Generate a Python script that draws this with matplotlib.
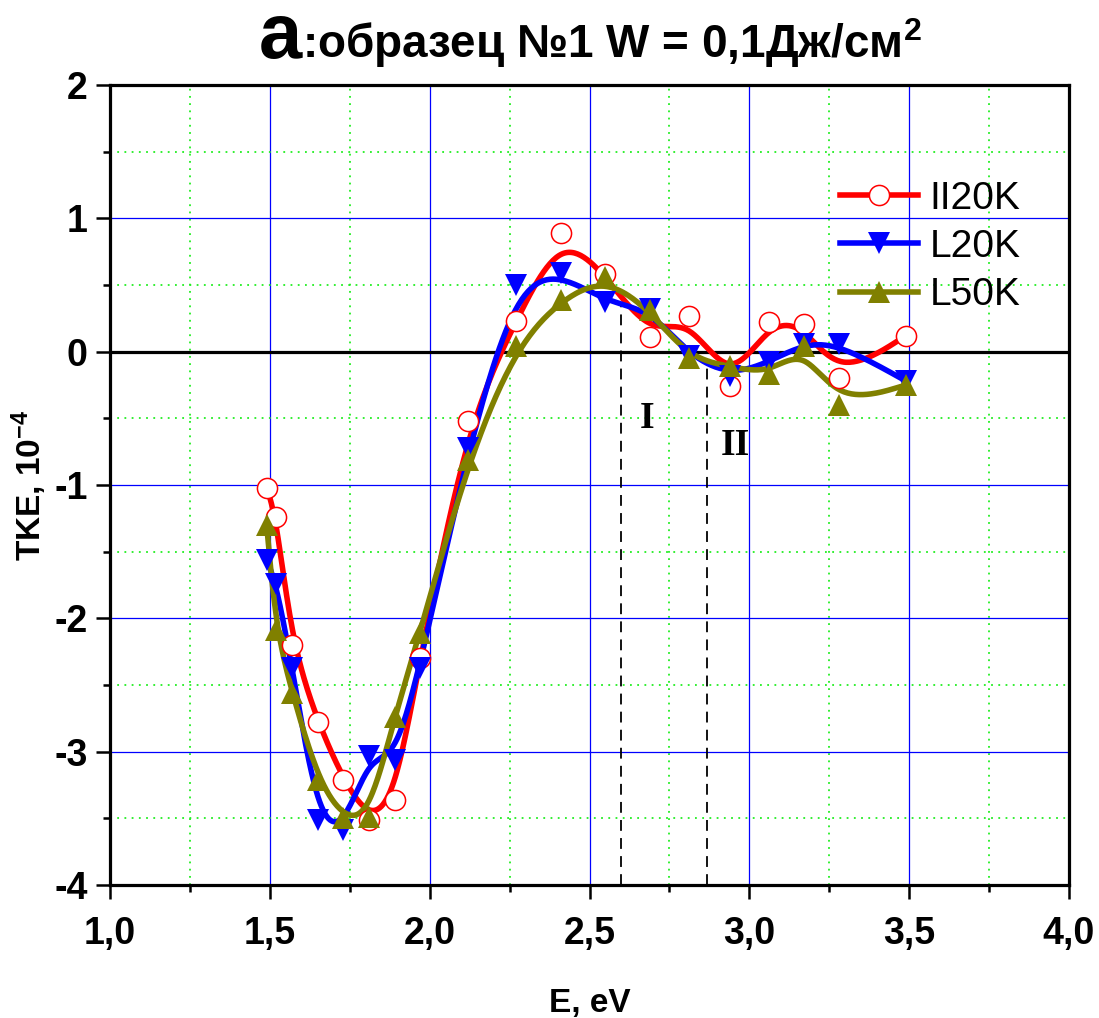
import numpy as np
import matplotlib
matplotlib.use('Agg')
import matplotlib.pyplot as plt
from matplotlib.ticker import MultipleLocator, FuncFormatter

plt.rcParams['axes.unicode_minus'] = False
SANS = ['Liberation Sans Narrow', 'Liberation Sans', 'DejaVu Sans']
plt.rcParams['font.family'] = SANS
plt.rcParams['mathtext.fontset'] = 'custom'
plt.rcParams['mathtext.rm'] = 'Liberation Sans:bold'
plt.rcParams['mathtext.bf'] = 'Liberation Sans:bold'
plt.rcParams['mathtext.default'] = 'bf'

# photon energy, eV
energy = [1.49, 1.52, 1.57, 1.65, 1.73, 1.81, 1.89, 1.97, 2.12, 2.27,
          2.41, 2.55, 2.69, 2.81, 2.94, 3.06, 3.17, 3.28, 3.49]
# TKE, 10^-4
tke_ii20k = [-1.02, -1.24, -2.20, -2.78, -3.21, -3.51, -3.36, -2.30, -0.52, 0.23,
             0.89, 0.58, 0.11, 0.27, -0.26, 0.22, 0.21, -0.20, 0.12]
tke_l20k = [-1.56, -1.74, -2.37, -3.51, -3.59, -3.03, -3.06, -2.37, -0.72, 0.50,
            0.59, 0.37, 0.32, -0.03, -0.18, -0.08, 0.06, 0.06, -0.22]
tke_l50k = [-1.30, -2.09, -2.56, -3.21, -3.50, -3.49, -2.74, -2.11, -0.81, 0.04,
            0.39, 0.56, 0.31, -0.05, -0.11, -0.17, 0.04, -0.40, -0.25]

series_names = ['II20K', 'L20K', 'L50K']

# region borders (dashed lines) and their labels
border_x = [2.60, 2.866]
border_top = [0.34, -0.09]
region_labels = ['I', 'II']
region_label_xy = [(2.68, -0.50), (2.955, -0.70)]


def bspline(x, y, n=30):
    """uniform cubic B-spline with the data as control points (Origin style)"""
    px = np.r_[x[0], x[0], x, x[-1], x[-1]]
    py = np.r_[y[0], y[0], y, y[-1], y[-1]]
    t = np.linspace(0, 1, n)
    b0 = (1 - t) ** 3 / 6
    b1 = (3 * t ** 3 - 6 * t ** 2 + 4) / 6
    b2 = (-3 * t ** 3 + 3 * t ** 2 + 3 * t + 1) / 6
    b3 = t ** 3 / 6
    xs, ys = [], []
    for i in range(len(px) - 3):
        xs.append(b0 * px[i] + b1 * px[i + 1] + b2 * px[i + 2] + b3 * px[i + 3])
        ys.append(b0 * py[i] + b1 * py[i + 1] + b2 * py[i + 2] + b3 * py[i + 3])
    return np.concatenate(xs), np.concatenate(ys)


fig = plt.figure(figsize=(10.99, 10.18), dpi=100)
ax = fig.add_axes([0.1001, 0.1306, 0.8726, 0.7859])

styles = [
    dict(color='#ff0000', marker='o', ms=14.5, mfc='white', mec='#ff0000', mew=1.1),
    dict(color='#0000ff', marker='v', ms=16.5, mfc='#0000ff', mec='#0000ff', mew=0),
    dict(color='#808000', marker='^', ms=16.5, mfc='#808000', mec='#808000', mew=0),
]
for vals, name, st in zip([tke_ii20k, tke_l20k, tke_l50k], series_names, styles):
    sx, sy = bspline(np.array(energy), np.array(vals))
    ax.plot(sx, sy, color=st['color'], lw=4, zorder=3, solid_capstyle='round')
    ax.plot(energy, vals, ls='none', zorder=4, marker=st['marker'], ms=st['ms'],
            mfc=st['mfc'], mec=st['mec'], mew=st['mew'])
    # legend proxy
    ax.plot([], [], label=name, **st, lw=4)

ax.axhline(0, color='black', lw=2.3, zorder=2)

for bx, bt in zip(border_x, border_top):
    ax.plot([bx, bx], [-4, bt], color='black', lw=1.3, ls=(0, (6, 4)), zorder=2)
for lab, (lx, ly) in zip(region_labels, region_label_xy):
    ax.text(lx, ly, lab, family=['Liberation Serif', 'DejaVu Serif'], fontsize=27,
            fontweight='bold', ha='center', va='center')

ax.set_xlim(1.0, 4.0)
ax.set_ylim(-4, 2)
ax.xaxis.set_major_locator(MultipleLocator(0.5))
ax.xaxis.set_minor_locator(MultipleLocator(0.25))
ax.yaxis.set_major_locator(MultipleLocator(1))
ax.yaxis.set_minor_locator(MultipleLocator(0.5))
ax.xaxis.set_major_formatter(FuncFormatter(lambda v, p: ('%.1f' % v).replace('.', ',')))
ax.yaxis.set_major_formatter(FuncFormatter(lambda v, p: '%d' % round(v)))

ax.grid(which='major', color='#0000ff', lw=0.9, zorder=0)
ax.grid(which='minor', color='#22ee22', lw=1.3, ls=(0, (1, 3)), zorder=0)
ax.set_axisbelow(True)

ax.tick_params(which='major', direction='out', length=10, width=1.8, labelsize=27, pad=6)
ax.tick_params(axis='x', which='major', pad=12)
ax.tick_params(which='minor', direction='out', length=5, width=1.8)
for lab in ax.get_xticklabels() + ax.get_yticklabels():
    lab.set_fontweight('bold')
for sp in ax.spines.values():
    sp.set_linewidth(2.3)

ax.set_xlabel('E, eV', fontsize=24, fontweight='bold', labelpad=26)
ax.set_ylabel(r'TKE, 10$^{-4}$', fontsize=24, fontweight='bold', labelpad=4)

leg = ax.legend(loc='upper left', bbox_to_anchor=(0.745, 0.9), frameon=False,
                fontsize=28, handlelength=2.0, handletextpad=0.3, labelspacing=0.32,
                borderaxespad=0)

# title: big "а" followed by the rest, centred over the axes
W, H = fig.get_size_inches() * fig.dpi
base_y = 1 - 58 / H
t1 = fig.text(0, base_y, 'а', fontsize=56, fontweight='bold', va='baseline')
t2 = fig.text(0, base_y, r':образец №1 W = 0,1Дж/см$^{2}$', fontsize=33,
              fontweight='bold', va='baseline')
fig.canvas.draw()
r = fig.canvas.get_renderer()
w1 = t1.get_window_extent(r).width
w2 = t2.get_window_extent(r).width
x0 = 590 - (w1 + w2) / 2
t1.set_x(x0 / W)
t2.set_x((x0 + w1) / W)

fig.savefig('out.png', dpi=100)
